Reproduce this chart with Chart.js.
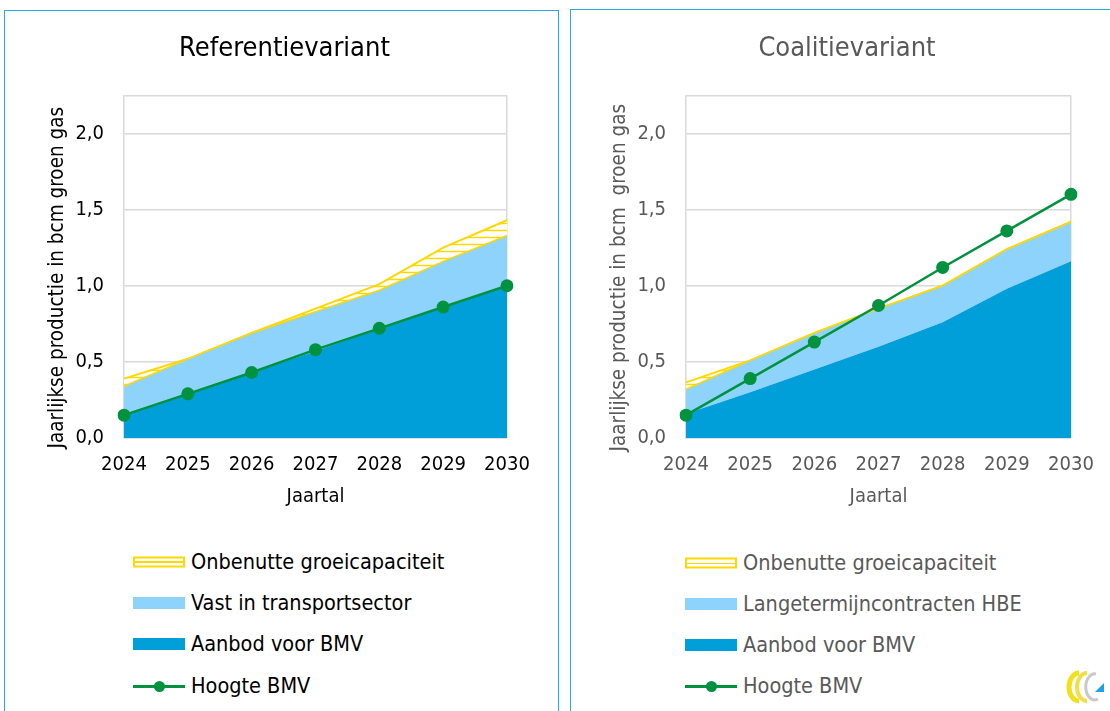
<!DOCTYPE html>
<html>
<head>
<meta charset="utf-8">
<script src="https://cdn.jsdelivr.net/npm/chart.js@4.4.1/dist/chart.umd.min.js"></script>
<style>
  html, body { margin: 0; padding: 0; background: #fff; }
  body { width: 1110px; height: 711px; position: relative; overflow: hidden;
         font-family: 'DejaVu Sans Condensed', 'DejaVu Sans', sans-serif; }
  .panel { position: absolute; border: 1.5px solid #29a9e1; box-sizing: border-box; }
  .wrap { position: absolute; }
  .legend { position: absolute; font-size: 21.5px; }
  .legend .item { position: absolute; left: 0; height: 24px; white-space: nowrap; }
  .legend .icon { position: absolute; left: 0; top: 50%; width: 52px; transform: translateY(-50%); }
  .legend .txt { position: absolute; left: 58px; top: 50%; transform: translateY(-50%); line-height: 24px; }
  #logo { position: absolute; left: 1066px; top: 670px; }
</style>
</head>
<body>
<div class="panel" style="left:4px; top:10px; width:555px; height:720px;"></div>
<div class="panel" style="left:570px; top:9px; width:560px; height:720px;"></div>
<div class="wrap" style="left:4px; top:10px;"><canvas id="refChart" width="554" height="520"></canvas></div>
<div class="wrap" style="left:570px; top:10px;"><canvas id="coalChart" width="554" height="520"></canvas></div>
<div class="legend" id="refLegend" style="left:133px; top:0;"></div>
<div class="legend" id="coalLegend" style="left:685px; top:0;"></div>
<svg id="logo" width="40" height="34" viewBox="0 0 40 34">
  <path d="M13 3 A10 14 0 1 0 13 31" fill="none" stroke="#f3df1c" stroke-width="5"/>
  <path d="M21 3 A10 14 0 1 0 21 31" fill="none" stroke="#efe04a" stroke-width="4"/>
  <path d="M30 4 A9 13 0 1 0 32 29" fill="none" stroke="#c9c9c9" stroke-width="3"/>
  <path d="M29 22 L38 13 L38 22 Z" fill="#1aa3e0"/>
</svg>
<script>
// shared axis data
const years = ['2024', '2025', '2026', '2027', '2028', '2029', '2030'];
const yTicks = [0, 0.5, 1, 1.5, 2];
const yMax = 2.25;

// Referentievariant
const refAanbod = [0.15, 0.29, 0.43, 0.57, 0.72, 0.86, 1.00];
const refVast = [0.19, 0.23, 0.26, 0.26, 0.25, 0.30, 0.33];
const refOnbenut = [0.05, 0.00, 0.00, 0.02, 0.04, 0.09, 0.10];
const refHoogte = [0.15, 0.29, 0.43, 0.58, 0.72, 0.86, 1.00];

// Coalitievariant
const coalAanbod = [0.16, 0.30, 0.45, 0.60, 0.76, 0.98, 1.16];
const coalLangetermijn = [0.16, 0.21, 0.24, 0.25, 0.24, 0.26, 0.26];
const coalOnbenut = [0.045, 0.00, 0.00, 0.00, 0.00, 0.00, 0.00];
const coalHoogte = [0.15, 0.39, 0.63, 0.87, 1.12, 1.36, 1.60];

const FONT = "'DejaVu Sans Condensed', 'DejaVu Sans', sans-serif";
const DARK = '#009fda';
const LIGHT = '#8ed3fc';
const YELLOW = '#ffd800';
const GREEN = '#00923f';
const GRID = '#d9d9d9';

Chart.defaults.font.family = FONT;
Chart.defaults.animation = false;

// horizontal yellow hatch for the unused capacity band
function hatch() {
    const c = document.createElement('canvas');
    c.width = 8; c.height = 7;
    const ctx = c.getContext('2d');
    ctx.fillStyle = '#fff';
    ctx.fillRect(0, 0, 8, 7);
    ctx.strokeStyle = YELLOW;
    ctx.lineWidth = 1.5;
    ctx.beginPath();
    ctx.moveTo(0, 3.5); ctx.lineTo(8, 3.5);
    ctx.stroke();
    return document.createElement('canvas').getContext('2d').createPattern(c, 'repeat');
}

// rotated y axis title, positioned by hand like the original
const yTitlePlugin = {
    id: 'yTitle',
    afterDraw(chart, args, opts) {
        const ctx = chart.ctx;
        const a = chart.chartArea;
        ctx.save();
        ctx.translate(opts.x, (a.top + a.bottom) / 2 + opts.dy);
        ctx.rotate(-Math.PI / 2);
        ctx.font = '20.5px ' + FONT;
        ctx.fillStyle = opts.color;
        ctx.textAlign = 'center';
        ctx.textBaseline = 'middle';
        ctx.fillText(opts.text, 0, 0);
        ctx.restore();
    }
};

function makeChart(id, cfg) {
    const last = years.length - 1;
    return new Chart(document.getElementById(id), {
        type: 'line',
        data: {
            labels: years,
            datasets: [
                {
                    label: cfg.labels[3], data: cfg.hoogte, stack: 'bmv',
                    borderColor: GREEN, backgroundColor: GREEN, borderWidth: 2.5,
                    pointRadius: 6.5, pointBackgroundColor: GREEN, pointBorderWidth: 0,
                    fill: false, tension: 0
                },
                {
                    label: cfg.labels[2], data: cfg.aanbod, stack: 'area',
                    backgroundColor: DARK, borderWidth: 0, pointRadius: 0,
                    fill: 'origin', tension: 0
                },
                {
                    label: cfg.labels[1], data: cfg.vast, stack: 'area',
                    backgroundColor: LIGHT, borderColor: YELLOW, borderWidth: 1.5, pointRadius: 0,
                    fill: '-1', tension: 0
                },
                {
                    label: cfg.labels[0], data: cfg.onbenut, stack: 'area',
                    backgroundColor: hatch(), borderColor: YELLOW, borderWidth: 2, pointRadius: 0,
                    fill: '-1', tension: 0
                }
            ]
        },
        options: {
            responsive: false,
            layout: { padding: { left: cfg.padLeft, right: 0, top: 0, bottom: 21 } },
            plugins: {
                legend: { display: false },
                tooltip: { enabled: false },
                title: {
                    display: true, text: cfg.title, color: cfg.color,
                    font: { size: 27, weight: 'normal' },
                    padding: { top: 23, bottom: 30 }
                },
                yTitle: { text: cfg.yTitle, x: cfg.yTitleX, dy: 11, color: cfg.color }
            },
            scales: {
                x: {
                    offset: false,
                    afterFit: (s) => { s.height = 71; s.paddingRight = cfg.padRight; },
                    grid: {
                        drawTicks: false, lineWidth: 1.5,
                        color: (c) => c.index === last ? GRID : 'rgba(0,0,0,0)'
                    },
                    border: { color: GRID, width: 1.5 },
                    ticks: { color: cfg.color, font: { size: 20 }, padding: 15, maxRotation: 0 },
                    title: {
                        display: true, text: 'Jaartal', color: cfg.color,
                        font: { size: 20 }, padding: { top: 8, bottom: 0 }
                    }
                },
                y: {
                    stacked: true, min: 0, max: yMax,
                    afterFit: (s) => { s.width = cfg.yWidth; },
                    afterBuildTicks: (s) => { s.ticks = yTicks.concat([yMax]).map(v => ({ value: v })); },
                    grid: { drawTicks: false, color: GRID, lineWidth: 1.5 },
                    border: { color: GRID, width: 1.5 },
                    ticks: {
                        color: cfg.color, font: { size: 20 }, padding: 20,
                        callback: (v) => yTicks.includes(v) ? v.toFixed(1).replace('.', ',') : ''
                    }
                }
            }
        },
        plugins: [yTitlePlugin]
    });
}

function buildLegend(elId, chart, rows) {
    const el = document.getElementById(elId);
    const ds = chart.data.datasets;
    // legend runs top to bottom: unused, fixed, supply, BMV line
    const order = [3, 2, 1, 0];
    order.forEach((i, k) => {
        const item = document.createElement('div');
        item.className = 'item';
        item.style.top = (rows[k] - 12) + 'px';
        item.style.color = chart.options.plugins.title.color;
        const icon = document.createElement('div');
        icon.className = 'icon';
        if (i === 3) {
            icon.style.height = '11px';
            icon.style.border = '2px solid ' + YELLOW;
            icon.style.boxSizing = 'border-box';
            icon.style.background = 'linear-gradient(transparent 3px, ' + YELLOW + ' 3px, ' + YELLOW + ' 4.5px, transparent 4.5px)';
        } else if (i === 0) {
            icon.style.height = '12px';
            icon.innerHTML = '<div style="position:absolute;left:0;top:5px;width:52px;height:2.5px;background:' + GREEN + '"></div>' +
                '<div style="position:absolute;left:21px;top:1px;width:11px;height:11px;border-radius:50%;background:' + GREEN + '"></div>';
        } else {
            icon.style.height = '12px';
            icon.style.background = ds[i].backgroundColor;
        }
        const txt = document.createElement('div');
        txt.className = 'txt';
        txt.textContent = ds[i].label;
        item.appendChild(icon);
        item.appendChild(txt);
        el.appendChild(item);
    });
}

const refChart = makeChart('refChart', {
    title: 'Referentievariant', color: '#000000',
    yTitle: 'Jaarlijkse productie in bcm groen gas', yTitleX: 54, yWidth: 113, padLeft: 7, padRight: 51,
    labels: ['Onbenutte groeicapaciteit', 'Vast in transportsector', 'Aanbod voor BMV', 'Hoogte BMV'],
    aanbod: refAanbod, vast: refVast, onbenut: refOnbenut, hoogte: refHoogte
});

const coalChart = makeChart('coalChart', {
    title: 'Coalitievariant', color: '#595959',
    yTitle: 'Jaarlijkse productie in bcm  groen gas', yTitleX: 50, yWidth: 116, padLeft: 0, padRight: 53,
    labels: ['Onbenutte groeicapaciteit', 'Langetermijncontracten HBE', 'Aanbod voor BMV', 'Hoogte BMV'],
    aanbod: coalAanbod, vast: coalLangetermijn, onbenut: coalOnbenut, hoogte: coalHoogte
});

buildLegend('refLegend', refChart, [562, 603, 644, 686]);
buildLegend('coalLegend', coalChart, [563, 604, 645, 686]);
</script>
</body>
</html>
